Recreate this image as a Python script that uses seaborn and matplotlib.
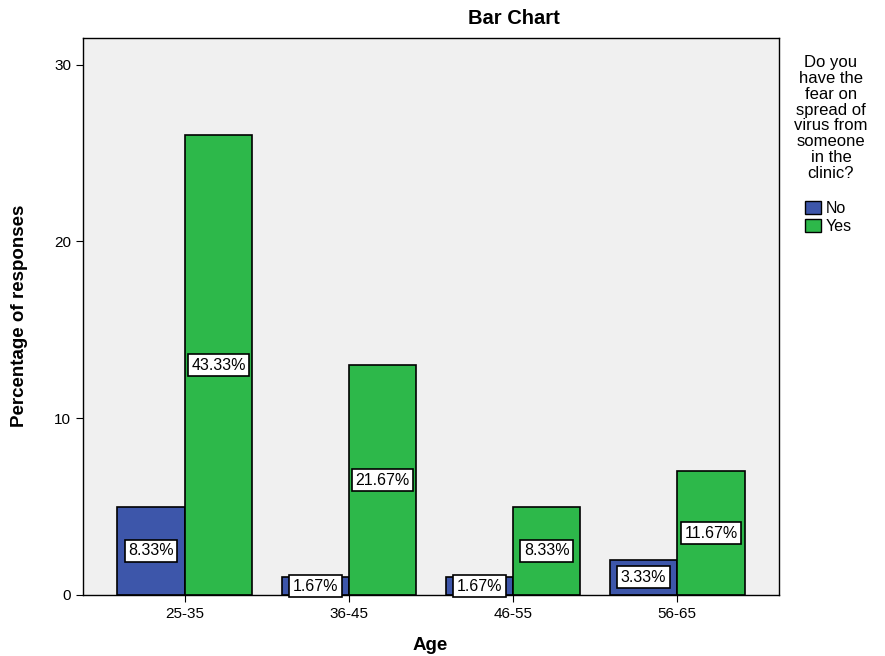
import matplotlib
matplotlib.use("Agg")
import matplotlib.pyplot as plt
import seaborn as sns
import pandas as pd
from matplotlib.patches import Patch

ages = ["25-35", "36-45", "46-55", "56-65"]
no_counts = [5, 1, 1, 2]
yes_counts = [26, 13, 5, 7]
no_labels = ["8.33%", "1.67%", "1.67%", "3.33%"]
yes_labels = ["43.33%", "21.67%", "8.33%", "11.67%"]
groups = ["No", "Yes"]
colors = {"No": "#3D56AA", "Yes": "#2DB84A"}

df = pd.DataFrame({
    "Age": ages * 2,
    "Response": ["No"] * 4 + ["Yes"] * 4,
    "Value": no_counts + yes_counts,
    "Label": no_labels + yes_labels,
})

sns.set_style("white")
plt.rcParams['font.family'] = ['Liberation Sans', 'DejaVu Sans']
plt.rcParams['text.color'] = 'black'
plt.rcParams['xtick.color'] = 'black'
plt.rcParams['ytick.color'] = 'black'

fig = plt.figure(figsize=(8.85, 6.56), dpi=100)
ax = fig.add_axes([83/885, 61/656, (779-83)/885, (595-38)/656])
ax.set_facecolor("#F0F0F0")

sns.barplot(data=df, x="Age", y="Value", hue="Response", order=ages,
            hue_order=groups, palette=colors, width=0.82, edgecolor="black",
            linewidth=1.2, saturation=1, legend=False, ax=ax)

for cont, grp in zip(ax.containers, groups):
    labs = df[df.Response == grp]["Label"].tolist()
    for bar, lab in zip(cont, labs):
        x = bar.get_x() + bar.get_width() / 2
        y = bar.get_height() / 2
        ax.text(x, y, lab, ha="center", va="center", fontsize=11.5, color="black",
                bbox=dict(boxstyle="square,pad=0.22", fc="white", ec="black", lw=1.2))

ax.set_xlim(-0.62, 3.62)
ax.set_ylim(0, 31.5)
ax.set_yticks([0, 10, 20, 30])
ax.tick_params(axis="both", labelsize=11, length=5, color="black", direction="out")
ax.tick_params(axis="x", bottom=True)
ax.tick_params(axis="y", left=True)
for s in ax.spines.values():
    s.set_color("black")
    s.set_linewidth(1)
ax.set_xlabel("")
ax.set_ylabel("")

fig.text(20/885, 1 - 316/656, "Percentage of responses", rotation=90, ha="center",
         va="center", fontsize=13.5, fontweight="bold")
fig.text(430/885, 1 - 646/656, "Age", ha="center", va="center", fontsize=13.5,
         fontweight="bold")
fig.text(514/885, 1 - 19/656, "Bar Chart", ha="center", va="center", fontsize=14.5,
         fontweight="bold")

fig.text(831/885, 1 - 118/656,
         "Do you\nhave the\nfear on\nspread of\nvirus from\nsomeone\nin the\nclinic?",
         ha="center", va="center", fontsize=12, linespacing=1.08)
handles = [Patch(facecolor=colors[g], edgecolor="black", label=g) for g in groups]
fig.legend(handles=handles, loc="upper left", bbox_to_anchor=(805/885, 1 - 201/656),
           frameon=False, fontsize=11.5, handlelength=1.0, handleheight=0.9,
           handletextpad=0.3, borderpad=0, labelspacing=0.15, borderaxespad=0)

fig.savefig("out.png", dpi=100)
